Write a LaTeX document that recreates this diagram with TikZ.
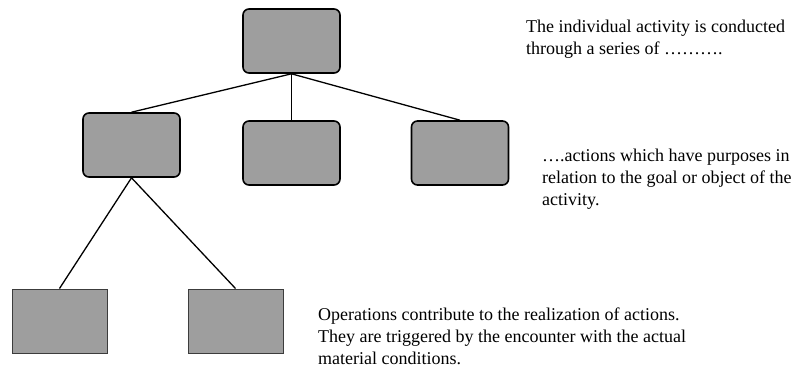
\documentclass[tikz,border=0pt]{standalone}
\usepackage{fontspec}
\setmainfont{Liberation Serif}
\definecolor{boxgray}{RGB}{158,158,158}
\definecolor{edgegray}{RGB}{60,60,60}
\tikzset{
  actbox/.style={draw=black, line width=1.6pt, fill=boxgray, rounded corners=6pt,
    minimum width=97pt, minimum height=64pt, inner sep=0pt},
  opbox/.style={draw=edgegray, line width=1pt, fill=boxgray,
    minimum width=95pt, minimum height=64pt, inner sep=0pt},
  link/.style={draw=black, line width=1.3pt},
  note/.style={align=left, inner sep=0pt, anchor=base west,
    font=\fontsize{18}{22}\selectfont}
}
\begin{document}
\begin{tikzpicture}[x=1pt, y=-1pt]
\useasboundingbox (0,0) rectangle (804,368);
\node[actbox] (act) at (291.5,41) {};
\node[actbox] (a1) at (131.5,145) {};
\node[actbox] (a2) at (291.5,153) {};
\node[actbox] (a3) at (460,153) {};
\node[opbox] (o1) at (59.5,321) {};
\node[opbox] (o2) at (235.5,321) {};
\draw[link] (act.south) -- (a1.north);
\draw[link] (act.south) -- (a2.north);
\draw[link] (act.south) -- (a3.north);
\draw[link] (a1.south) -- (o1.north);
\draw[link] (a1.south) -- (o2.north);
\node[note] (t1) at (526,54) {The individual activity is conducted\\through a series of ……….};
\node[note] (t2) at (542,205) {….actions which have purposes in\\relation to the goal or object of the\\activity.};
\node[note] (t3) at (318,364) {Operations contribute to the realization of actions.\\They are triggered by the encounter with the actual\\material conditions.};
\end{tikzpicture}
\end{document}
